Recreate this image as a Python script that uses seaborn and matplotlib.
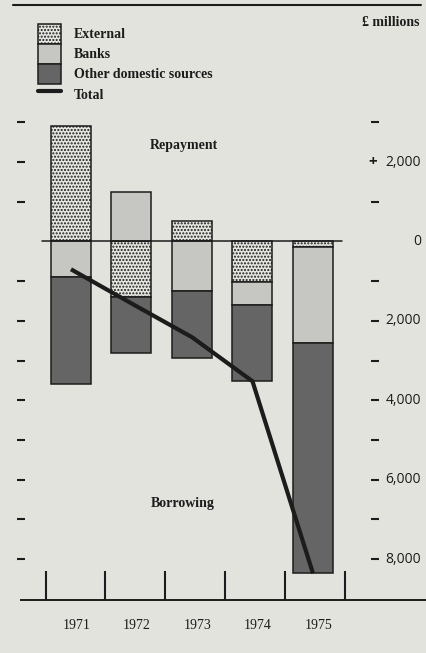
import numpy as np
import matplotlib
matplotlib.use("Agg")
import matplotlib.pyplot as plt
import matplotlib.transforms as mtransforms
from matplotlib.patches import Patch
from matplotlib.lines import Line2D
import seaborn as sns

# ---------------- data ----------------
years = ["1971", "1972", "1973", "1974", "1975"]
external = [2900, -1390, 520, -1020, -150]
banks = [-890, 1240, -1240, -580, -2400]
other = [-2710, -1410, -1690, -1920, -5810]
total = [-700, -1560, -2410, -3520, -8360]
series_names = ["External", "Banks", "Other domestic sources"]
total_name = "Total"

right_label_values = [2000, 0, -2000, -4000, -6000, -8000]
right_label_texts = ["2,000", "0", "2,000", "4,000", "6,000", "8,000"]
left_tick_values = [3000, 2000, 1000, -1000, -2000, -3000, -4000,
                    -5000, -6000, -7000, -8000]
right_dash_values = [3000, 1000, -1000, -2000, -3000, -4000,
                     -5000, -6000, -7000, -8000]
unit_label = "£ millions"
repay_label = "Repayment"
borrow_label = "Borrowing"

# ---------------- style ----------------
bg = "#e3e3de"
ink = "#1c1c1c"
ext_col = "#e6e6e1"
banks_col = "#c6c6c2"
other_col = "#656565"

sns.set_style("white")
plt.rcParams["font.family"] = ["Liberation Serif", "DejaVu Serif"]
plt.rcParams["hatch.linewidth"] = 1.0
plt.rcParams["hatch.color"] = ink

W, H = 426, 653
fig = plt.figure(figsize=(W / 100, H / 100), dpi=100, facecolor=bg)
ax = fig.add_axes([21 / W, 53 / H, 405 / W, 500 / H])
ax.set_facecolor(bg)

# stacked (diverging) bottoms computed from the series
n = len(years)
pos = np.zeros(n)
neg = np.zeros(n)
bottoms = []
for s in (external, banks, other):
    s = np.asarray(s, float)
    bottoms.append(np.where(s >= 0, pos, neg))
    pos = pos + np.where(s >= 0, s, 0)
    neg = neg + np.where(s < 0, s, 0)

bar_styles = [
    dict(color=ext_col, hatch="....."),
    dict(color=banks_col),
    dict(color=other_col),
]
bar_w = 0.661
for vals, b, st in zip((external, banks, other), bottoms, bar_styles):
    sns.barplot(x=years, y=vals, bottom=b, width=bar_w, saturation=1,
                edgecolor=ink, linewidth=1.1, errorbar=None, ax=ax,
                zorder=2, **st)

# zero line
ax.axhline(0, xmin=(42 - 21) / 405, xmax=(342 - 21) / 405,
           color=ink, lw=1.1, zorder=3)

# total line
sns.lineplot(x=np.arange(n), y=total, color=ink, lw=3.0, ax=ax,
             zorder=4, solid_capstyle="butt")

ax.set_xlim(-0.826, 5.868)
ax.set_ylim(-9030, 3564)
ax.set_xlabel("")
ax.set_ylabel("")

for sp in ("top", "left", "right"):
    ax.spines[sp].set_visible(False)
ax.spines["bottom"].set_color(ink)
ax.spines["bottom"].set_linewidth(1.4)
ax.spines["right"].set_position(("axes", (374.5 - 21) / 405))

# y ticks: left dashes (major) and right dashes (minor)
ax.yaxis.remove_overlapping_locs = False
ax.set_yticks(left_tick_values)
ax.set_yticks(right_dash_values, minor=True)
ax.tick_params(axis="y", which="major", left=True, right=False,
               labelleft=False, labelright=False, direction="inout",
               length=5.8, width=1.5, color=ink)
ax.tick_params(axis="y", which="minor", left=False, right=True,
               labelleft=False, labelright=False, direction="inout",
               length=5.2, width=1.5, color=ink)

# x: long tick marks between the bars, year labels centred
ax.set_xticks(np.arange(n + 1) * 0.99 - 0.42, minor=True)
ax.set_xticks(np.arange(n) + 0.09, labels=years)
ax.tick_params(axis="x", which="minor", bottom=True, direction="in",
               length=20.9, width=1.5, color=ink)
ax.tick_params(axis="x", which="major", length=0, pad=14, labelsize=10,
               labelcolor=ink)

# right-hand value labels
trans = mtransforms.blended_transform_factory(ax.transAxes, ax.transData)
for v, t in zip(right_label_values, right_label_texts):
    ax.text((421 - 21) / 405, v, t, transform=trans, ha="right", va="center",
            fontsize=10, family=["Open Sans", "DejaVu Sans"], color=ink)
ax.text((372.5 - 21) / 405, right_label_values[0], "+", transform=trans,
        ha="center", va="center", fontsize=11, fontweight="bold",
        family=["Open Sans", "DejaVu Sans"], color=ink)

# annotations
ax.text(1.87, 2430, repay_label, ha="center", va="center", fontsize=10,
        fontweight="bold", color=ink)
ax.text(1.85, -6610, borrow_label, ha="center", va="center", fontsize=10,
        fontweight="bold", color=ink)

fig.text(420 / W, 1 - 23 / H, unit_label, ha="right", va="center",
         fontsize=10, fontweight="bold", color=ink)
fig.add_artist(Line2D([13 / W, 421 / W], [1 - 5 / H, 1 - 5 / H],
                      transform=fig.transFigure, color=ink, lw=1.5))

# legend
handles = [
    Patch(facecolor=ext_col, edgecolor=ink, hatch=".....", lw=1.1),
    Patch(facecolor=banks_col, edgecolor=ink, lw=1.1),
    Patch(facecolor=other_col, edgecolor=ink, lw=1.1),
    Line2D([], [], color=ink, lw=3.0),
]
leg = fig.legend(handles, series_names + [total_name], loc="upper left",
                 bbox_to_anchor=(38 / W, 1 - 24 / H), frameon=False,
                 borderpad=0, borderaxespad=0, handlelength=1.66,
                 handleheight=1.84, labelspacing=0, handletextpad=0.94,
                 prop=dict(family="Liberation Serif", size=10, weight="bold"))
for t in leg.get_texts():
    t.set_color(ink)

fig.savefig("out.png", dpi=100, facecolor=bg)
